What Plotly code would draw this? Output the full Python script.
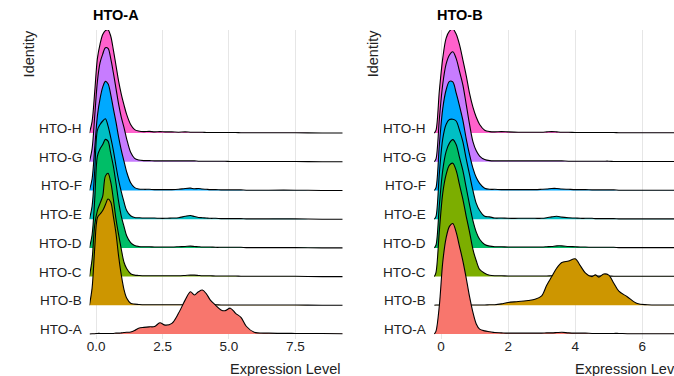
import plotly.graph_objects as go

IDENTITIES = ["HTO-A", "HTO-B", "HTO-C", "HTO-D", "HTO-E", "HTO-F", "HTO-G", "HTO-H"]
COLORS = ["#F8766D", "#CD9600", "#7CAE00", "#00BE67", "#00BFC4", "#00A9FF", "#C77CFF", "#FF61CC"]
PANEL_TITLES = ["HTO-A", "HTO-B"]
X_TITLE = "Expression Level"
Y_TITLE = "Identity"

# ---------------- Panel 1: HTO-A expression (x grid + ridge heights in row units)
A_X = [-0.25, -0.15, -0.05, 0.05, 0.15, 0.25, 0.35, 0.45, 0.55, 0.65, 0.75, 0.85, 0.95, 1.05, 1.15, 1.3, 1.45,
       1.6, 1.8, 2.0, 2.2, 2.4, 2.6, 2.85, 3.1, 3.35, 3.55, 3.7, 3.85, 4.0, 4.15, 4.3, 4.5, 4.7, 4.85, 5.05,
       5.25, 5.45, 5.65, 5.95, 6.5, 7.5, 8.5, 9.3]
A_HTO_A = [0, 0.01, 0.01, 0.02, 0.02, 0.02, 0.02, 0.02, 0.02, 0.02, 0.03, 0.03, 0.04, 0.05, 0.06, 0.07, 0.12,
           0.2, 0.23, 0.25, 0.26, 0.39, 0.31, 0.37, 0.72, 1.18, 1.47, 1.36, 1.47, 1.53, 1.4, 1.18, 1.0, 0.84, 0.81, 0.9,
           0.72, 0.58, 0.27, 0.06, 0.03, 0.02, 0.02, 0.01]
A_HTO_B = [0, 0.6, 2.0, 3.05, 3.18, 3.3, 3.5, 3.7, 3.6, 3.1, 2.5, 1.7, 1.05, 0.55, 0.25, 0.07, 0.04,
           0.03, 0.02, 0.02, 0.02, 0.02, 0.02, 0.02, 0.02, 0.02, 0.02, 0.02, 0.02, 0.02, 0.02, 0.02, 0.02, 0.01, 0.01, 0.01,
           0.01, 0.01, 0.01, 0.01, 0.01, 0.01, 0.0, 0.0]
A_HTO_C = [0, 0.6, 1.8, 2.3, 2.55, 2.8, 3.5, 3.6, 3.3, 2.7, 2.0, 1.45, 0.95, 0.5, 0.28, 0.1, 0.05,
           0.04, 0.03, 0.03, 0.03, 0.03, 0.03, 0.03, 0.03, 0.04, 0.05, 0.05, 0.04, 0.03, 0.03, 0.03, 0.02, 0.02, 0.02, 0.02,
           0.02, 0.01, 0.01, 0.01, 0.01, 0.01, 0.0, 0.0]
A_HTO_D = [0, 0.45, 1.7, 3.2, 3.45, 3.6, 3.78, 3.72, 3.3, 2.85, 2.25, 1.6, 1.1, 0.75, 0.42, 0.18, 0.08,
           0.05, 0.04, 0.04, 0.03, 0.03, 0.03, 0.03, 0.04, 0.05, 0.06, 0.05, 0.04, 0.03, 0.03, 0.03, 0.02, 0.02, 0.02, 0.02,
           0.02, 0.02, 0.01, 0.01, 0.01, 0.01, 0.0, 0.0]
A_HTO_E = [0, 0.45, 1.7, 3.1, 3.3, 3.42, 3.5, 3.25, 2.85, 2.4, 1.85, 1.35, 0.95, 0.6, 0.3, 0.12, 0.06,
           0.05, 0.04, 0.04, 0.04, 0.03, 0.03, 0.04, 0.05, 0.1, 0.13, 0.09, 0.06, 0.05, 0.04, 0.03, 0.03, 0.02, 0.02, 0.02,
           0.02, 0.02, 0.01, 0.01, 0.01, 0.01, 0.0, 0.0]
A_HTO_F = [0, 0.4, 1.5, 2.6, 3.2, 3.6, 3.8, 3.72, 3.35, 2.85, 2.38, 1.85, 1.4, 1.02, 0.65, 0.27, 0.1,
           0.05, 0.04, 0.04, 0.03, 0.03, 0.03, 0.03, 0.04, 0.07, 0.08, 0.06, 0.07, 0.05, 0.04, 0.03, 0.03, 0.02, 0.02, 0.02,
           0.02, 0.02, 0.01, 0.01, 0.01, 0.01, 0.0, 0.0]
A_HTO_G = [0, 0.45, 1.6, 2.8, 3.45, 3.75, 3.97, 3.95, 3.6, 3.1, 2.55, 2.0, 1.55, 1.2, 0.8, 0.33, 0.12,
           0.06, 0.04, 0.04, 0.03, 0.03, 0.03, 0.03, 0.03, 0.03, 0.03, 0.03, 0.02, 0.02, 0.02, 0.02, 0.02, 0.02, 0.02, 0.01,
           0.01, 0.01, 0.01, 0.01, 0.01, 0.01, 0.0, 0.0]
A_HTO_H = [0, 0.4, 1.45, 2.6, 3.1, 3.43, 3.57, 3.6, 3.38, 2.9, 2.35, 1.8, 1.35, 0.98, 0.65, 0.3, 0.12,
           0.07, 0.05, 0.06, 0.04, 0.05, 0.04, 0.04, 0.03, 0.04, 0.03, 0.03, 0.03, 0.03, 0.02, 0.02, 0.02, 0.02, 0.02, 0.02,
           0.02, 0.01, 0.01, 0.01, 0.01, 0.01, 0.0, 0.0]

# ---------------- Panel 2: HTO-B expression
B_X = [-0.2, -0.15, -0.05, 0.05, 0.15, 0.25, 0.35, 0.45, 0.55, 0.65, 0.75, 0.85, 0.95, 1.05, 1.15, 1.3, 1.45,
       1.6, 1.8, 2.0, 2.3, 2.6, 2.8, 3.0, 3.15, 3.3, 3.45, 3.6, 3.8, 4.0, 4.15, 4.3, 4.5, 4.6, 4.7, 4.85, 5.0,
       5.15, 5.3, 5.55, 5.85, 6.15, 6.6, 7.3]
B_HTO_A = [0, 0.1, 1.0, 2.5, 3.34, 3.75, 3.85, 3.55, 3.05, 2.55, 1.95, 1.3, 0.75, 0.35, 0.17, 0.11, 0.08,
           0.05, 0.04, 0.03, 0.03, 0.03, 0.03, 0.03, 0.04, 0.04, 0.05, 0.06, 0.04, 0.03, 0.03, 0.03, 0.02, 0.02, 0.02, 0.02,
           0.02, 0.02, 0.02, 0.01, 0.01, 0.01, 0.01, 0.01]
B_HTO_B = [0, 0.01, 0.01, 0.01, 0.01, 0.01, 0.01, 0.01, 0.01, 0.01, 0.01, 0.01, 0.01, 0.01, 0.01, 0.01, 0.02,
           0.02, 0.05, 0.1, 0.13, 0.17, 0.21, 0.33, 0.7, 1.0, 1.3, 1.49, 1.54, 1.62, 1.38, 1.13, 1.0, 1.06, 0.98, 1.09,
           1.05, 0.77, 0.49, 0.3, 0.06, 0.02, 0.01, 0.01]
B_HTO_C = [0, 0.15, 1.6, 2.9, 3.55, 3.88, 3.95, 3.7, 3.2, 2.7, 2.1, 1.55, 0.95, 0.55, 0.25, 0.12, 0.05,
           0.03, 0.03, 0.02, 0.02, 0.02, 0.02, 0.02, 0.02, 0.03, 0.03, 0.03, 0.02, 0.02, 0.02, 0.02, 0.02, 0.02, 0.02, 0.02,
           0.02, 0.01, 0.01, 0.01, 0.01, 0.01, 0.01, 0.01]
B_HTO_D = [0, 0.1, 1.5, 2.7, 3.35, 3.65, 3.77, 3.6, 3.15, 2.7, 2.1, 1.5, 0.95, 0.55, 0.3, 0.12, 0.06,
           0.04, 0.04, 0.03, 0.03, 0.03, 0.03, 0.03, 0.04, 0.05, 0.07, 0.07, 0.05, 0.04, 0.03, 0.03, 0.02, 0.02, 0.02, 0.02,
           0.02, 0.02, 0.01, 0.01, 0.01, 0.01, 0.01, 0.01]
B_HTO_E = [0, 0.1, 1.6, 2.8, 3.3, 3.47, 3.48, 3.42, 3.1, 2.7, 2.1, 1.55, 1.0, 0.55, 0.3, 0.1, 0.08,
           0.04, 0.04, 0.03, 0.03, 0.03, 0.03, 0.03, 0.05, 0.08, 0.1, 0.07, 0.05, 0.04, 0.03, 0.03, 0.03, 0.02, 0.02, 0.02,
           0.02, 0.02, 0.01, 0.01, 0.01, 0.01, 0.01, 0.01]
B_HTO_F = [0, 0.1, 1.6, 2.85, 3.5, 3.8, 3.78, 3.4, 2.95, 2.45, 1.8, 1.25, 0.78, 0.45, 0.25, 0.08, 0.04,
           0.04, 0.03, 0.03, 0.03, 0.03, 0.03, 0.04, 0.05, 0.07, 0.07, 0.05, 0.04, 0.03, 0.03, 0.03, 0.02, 0.02, 0.02, 0.02,
           0.02, 0.02, 0.01, 0.01, 0.01, 0.01, 0.01, 0.01]
B_HTO_G = [0, 0.1, 1.5, 2.7, 3.4, 3.72, 3.83, 3.6, 3.15, 2.68, 2.0, 1.3, 0.7, 0.38, 0.2, 0.08, 0.04,
           0.03, 0.03, 0.03, 0.03, 0.03, 0.03, 0.03, 0.03, 0.03, 0.03, 0.03, 0.02, 0.02, 0.02, 0.02, 0.02, 0.02, 0.02, 0.02,
           0.02, 0.01, 0.01, 0.01, 0.01, 0.01, 0.01, 0.01]
B_HTO_H = [0, 0.1, 1.48, 2.6, 3.3, 3.55, 3.63, 3.45, 3.08, 2.55, 2.0, 1.38, 0.9, 0.55, 0.3, 0.1, 0.05,
           0.04, 0.05, 0.04, 0.03, 0.03, 0.03, 0.03, 0.04, 0.05, 0.04, 0.03, 0.03, 0.02, 0.02, 0.02, 0.02, 0.02, 0.02, 0.02,
           0.02, 0.02, 0.01, 0.01, 0.01, 0.01, 0.01, 0.01]

A_TICKS = [0, 2.5, 5, 7.5]
A_TICK_TEXT = ["0.0", "2.5", "5.0", "7.5"]
B_TICKS = [0, 2, 4, 6]
B_TICK_TEXT = ["0", "2", "4", "6"]

panels = [
    dict(x=A_X, ridges=[A_HTO_A, A_HTO_B, A_HTO_C, A_HTO_D, A_HTO_E, A_HTO_F, A_HTO_G, A_HTO_H],
         xa="x", ya="y"),
    dict(x=B_X, ridges=[B_HTO_A, B_HTO_B, B_HTO_C, B_HTO_D, B_HTO_E, B_HTO_F, B_HTO_G, B_HTO_H],
         xa="x2", ya="y2"),
]

W, H = 674, 376
FONT = "Liberation Sans, Arial, Helvetica, sans-serif"
fig = go.Figure()

for p in panels:
    xs = p["x"]
    # draw top row first so lower rows overlap upper ones
    for i in range(len(IDENTITIES) - 1, -1, -1):
        base = i + 1
        top = [base + h for h in p["ridges"][i]]
        fig.add_trace(go.Scatter(
            x=xs, y=[base] * len(xs), mode="lines",
            line=dict(width=0, color="rgba(0,0,0,0)", shape="spline", smoothing=0.9),
            xaxis=p["xa"], yaxis=p["ya"], hoverinfo="skip", showlegend=False))
        fig.add_trace(go.Scatter(
            x=xs, y=top, mode="lines", fill="tonexty", fillcolor=COLORS[i],
            line=dict(width=1.1, color="black", shape="spline", smoothing=0.9),
            xaxis=p["xa"], yaxis=p["ya"], hoverinfo="skip", showlegend=False))

def px_x(v):
    return v / W

def px_y(v):
    return 1 - v / H

y_dom = [px_y(339), px_y(30)]
y_rng = [0.826, 11.59]
axis_common = dict(showgrid=True, gridcolor="#E6E6E6", gridwidth=1, zeroline=False, showline=False,
                   ticks="", ticklabelstandoff=-3,
                   tickfont=dict(family=FONT, size=13.5, color="#222222"), fixedrange=True)
yaxis_common = dict(domain=y_dom, range=y_rng, showgrid=False, zeroline=False, showline=False,
                    showticklabels=False, ticks="", fixedrange=True)

fig.update_layout(
    width=W, height=H, margin=dict(l=0, r=0, t=0, b=0),
    paper_bgcolor="white", plot_bgcolor="white", showlegend=False,
    font=dict(family=FONT, color="#222222"),
    xaxis=dict(domain=[px_x(87), px_x(341)], range=[-0.243, 9.27], tickvals=A_TICKS, ticktext=A_TICK_TEXT,
               anchor="y", **axis_common),
    yaxis=dict(anchor="x", **yaxis_common),
    xaxis2=dict(domain=[px_x(433), 1.0], range=[-0.208, 6.944], tickvals=B_TICKS, ticktext=B_TICK_TEXT,
                anchor="y2", **axis_common),
    yaxis2=dict(anchor="x2", **yaxis_common),
)

ann = []
for k, (xa, ya) in enumerate([("x", "y"), ("x2", "y2")]):
    for i, name in enumerate(IDENTITIES):
        ann.append(dict(text=name, xref=f"{xa} domain", yref=ya, x=0, y=i + 1, xanchor="right",
                        yanchor="middle", xshift=-6, yshift=4.5, showarrow=False,
                        font=dict(family=FONT, size=13.5, color="#222222")))

for tx, title in zip([88, 433.5], PANEL_TITLES):
    ann.append(dict(text=f"<b>{title}</b>", xref="paper", yref="paper", x=px_x(tx),
                    y=px_y(15), xanchor="left", yanchor="middle", showarrow=False,
                    font=dict(family=FONT, size=14.5, color="black")))

for cx in [27, 372.5]:
    ann.append(dict(text=Y_TITLE, xref="paper", yref="paper", x=px_x(cx), y=px_y(53.5), textangle=-90,
                    xanchor="center", yanchor="middle", showarrow=False,
                    font=dict(family=FONT, size=14.5, color="#222222")))
for rx in [341, 687]:
    ann.append(dict(text=X_TITLE, xref="paper", yref="paper", x=px_x(rx), y=px_y(369), xanchor="right",
                    yanchor="middle", showarrow=False, font=dict(family=FONT, size=14.5, color="#222222")))

fig.update_layout(annotations=ann)
fig.write_html("out.html")
